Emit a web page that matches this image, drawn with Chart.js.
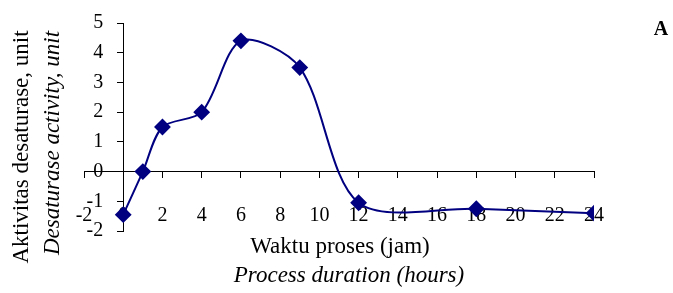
<!DOCTYPE html>
<html>
<head>
<meta charset="utf-8">
<script src="https://cdn.jsdelivr.net/npm/chart.js@4.4.0/dist/chart.umd.min.js"></script>
<style>
    html, body { margin: 0; padding: 0; background: #fff; }
    #wrap { width: 673px; height: 293px; position: relative; }
</style>
</head>
<body>
<div id="wrap"><canvas id="grafikAktivitas"></canvas></div>
<script>
// waktu proses (jam) dan aktivitas desaturase (unit)
const jam = [0, 1, 2, 4, 6, 9, 12, 18, 24];
const aktivitas = [-1.45, 0, 1.5, 2.0, 4.4, 3.5, -1.05, -1.25, -1.4];

// batas sumbu
const xMin = -2, xMax = 24, xStep = 2;
const yMin = -2, yMax = 5, yStep = 1;

const serif = "'Liberation Serif', 'Times New Roman', serif";

// judul sumbu digambar manual (dua baris, satu miring)
const judulPlugin = {
    id: 'judul',
    afterDraw(chart) {
        const ctx = chart.ctx;
        ctx.save();
        ctx.fillStyle = '#000';
        ctx.textAlign = 'center';
        ctx.textBaseline = 'middle';

        ctx.font = '23px ' + serif;
        ctx.fillText('Waktu proses (jam)', 340, 247);
        ctx.font = 'italic 23px ' + serif;
        ctx.fillText('Process duration (hours)', 349, 276);

        ctx.save();
        ctx.translate(22, 147);
        ctx.rotate(-Math.PI / 2);
        ctx.font = '23px ' + serif;
        ctx.fillText('Aktivitas desaturase, unit', 0, 0);
        ctx.restore();

        ctx.save();
        ctx.translate(53, 143);
        ctx.rotate(-Math.PI / 2);
        ctx.font = 'italic 23px ' + serif;
        ctx.fillText('Desaturase activity, unit', 0, 0);
        ctx.restore();

        ctx.font = 'bold 20px ' + serif;
        ctx.fillText('A', 661, 30);
        ctx.restore();
    }
};

const ctx = document.getElementById('grafikAktivitas').getContext('2d');
new Chart(ctx, {
    type: 'line',
    data: {
        datasets: [{
                label: 'Aktivitas desaturase',
                data: jam.map((j, i) => ({x: j, y: aktivitas[i]})),
                borderColor: '#000080',
                backgroundColor: '#000080',
                borderWidth: 2,
                fill: false,
                tension: 0.3,
                pointStyle: 'rectRot',
                pointRadius: 7,
                pointHoverRadius: 7
            }]
    },
    options: {
        responsive: true,
        maintainAspectRatio: false,
        animation: false,
        layout: {
            padding: {left: 84, right: 79, top: 23, bottom: 62}
        },
        plugins: {
            legend: {display: false},
            tooltip: {enabled: false}
        },
        scales: {
            x: {
                type: 'linear',
                min: xMin,
                max: xMax,
                position: {y: 0},
                grid: {
                    drawOnChartArea: false,
                    drawTicks: true,
                    tickLength: 6,
                    color: '#000'
                },
                border: {color: '#000', width: 1},
                ticks: {
                    stepSize: xStep,
                    padding: 26,
                    color: '#000',
                    font: {family: serif, size: 20},
                    maxRotation: 0,
                    autoSkip: false
                }
            },
            y: {
                type: 'linear',
                min: yMin,
                max: yMax,
                position: {x: 0},
                grid: {
                    drawOnChartArea: false,
                    drawTicks: true,
                    tickLength: 6,
                    color: '#000'
                },
                border: {color: '#000', width: 1},
                ticks: {
                    stepSize: yStep,
                    color: '#000',
                    font: {family: serif, size: 20},
                    // label sumbu y menempel di sumbu, jadi diberi jarak dengan spasi
                    callback: v => v + '    '
                }
            }
        }
    },
    plugins: [judulPlugin]
});
</script>
</body>
</html>
